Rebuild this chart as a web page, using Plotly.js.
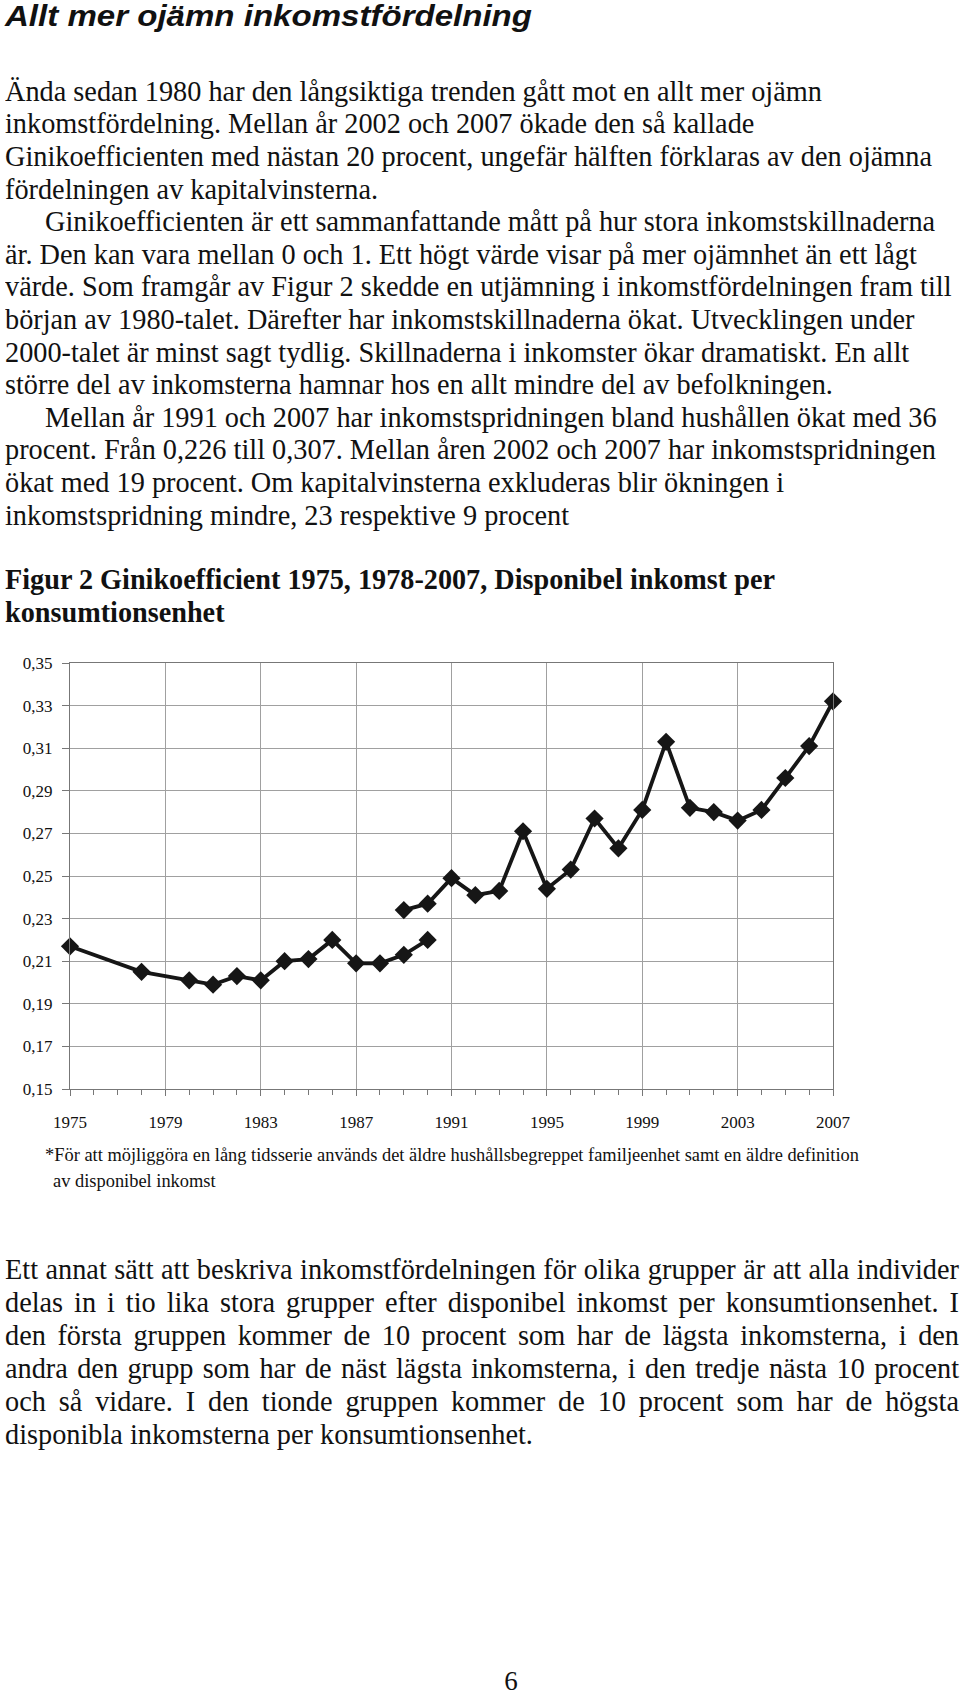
<!DOCTYPE html>
<html><head><meta charset="utf-8">
<script src="https://cdn.plot.ly/plotly-3.0.1.min.js"></script>
<style>
html,body{margin:0;padding:0;background:#fff;}
body{width:960px;height:1696px;position:relative;overflow:hidden;}
.ln{position:absolute;white-space:nowrap;transform-origin:0 50%;color:#111;font-family:'Liberation Serif',serif;}
#chart{position:absolute;left:0;top:640px;width:960px;height:500px;}
</style></head>
<body>
<div id="chart"></div>
<script>
// ---- data ----
const years1 = [1975, 1978, 1980, 1981, 1982, 1983, 1984, 1985, 1986, 1987, 1988, 1989, 1990];
const gini1  = [0.217, 0.205, 0.201, 0.199, 0.203, 0.201, 0.210, 0.211, 0.220, 0.209, 0.209, 0.213, 0.220];
const years2 = [1989, 1990, 1991, 1992, 1993, 1994, 1995, 1996, 1997, 1998, 1999, 2000, 2001, 2002, 2003, 2004, 2005, 2006, 2007];
const gini2  = [0.234, 0.237, 0.249, 0.241, 0.243, 0.271, 0.244, 0.253, 0.277, 0.263, 0.281, 0.313, 0.282, 0.280, 0.276, 0.281, 0.296, 0.311, 0.332];
const xTickStart = 1975, xTickStep = 4;
const yTicks = [0.15, 0.17, 0.19, 0.21, 0.23, 0.25, 0.27, 0.29, 0.31, 0.33, 0.35];

// ---- texts ----
const pageTitle = "Allt mer ojämn inkomstfördelning";
const para1 = [
 "Ända sedan 1980 har den långsiktiga trenden gått mot en allt mer ojämn",
 "inkomstfördelning. Mellan år 2002 och 2007 ökade den så kallade",
 "Ginikoefficienten med nästan 20 procent, ungefär hälften förklaras av den ojämna",
 "fördelningen av kapitalvinsterna.",
 "Ginikoefficienten är ett sammanfattande mått på hur stora inkomstskillnaderna",
 "är. Den kan vara mellan 0 och 1. Ett högt värde visar på mer ojämnhet än ett lågt",
 "värde. Som framgår av Figur 2 skedde en utjämning i inkomstfördelningen fram till",
 "början av 1980-talet. Därefter har inkomstskillnaderna ökat. Utvecklingen under",
 "2000-talet är minst sagt tydlig. Skillnaderna i inkomster ökar dramatiskt. En allt",
 "större del av inkomsterna hamnar hos en allt mindre del av befolkningen.",
 "Mellan år 1991 och 2007 har inkomstspridningen bland hushållen ökat med 36",
 "procent. Från 0,226 till 0,307. Mellan åren 2002 och 2007 har inkomstspridningen",
 "ökat med 19 procent. Om kapitalvinsterna exkluderas blir ökningen i",
 "inkomstspridning mindre, 23 respektive 9 procent"
];
const para1Indent = [4, 10];
const figTitle = ["Figur 2 Ginikoefficient 1975, 1978-2007, Disponibel inkomst per", "konsumtionsenhet"];
const footnote = ["*För att möjliggöra en lång tidsserie används det äldre hushållsbegreppet familjeenhet samt en äldre definition", "av disponibel inkomst"];
const para2 = [
 "Ett annat sätt att beskriva inkomstfördelningen för olika grupper är att alla individer",
 "delas in i tio lika stora grupper efter disponibel inkomst per konsumtionsenhet. I",
 "den första gruppen kommer de 10 procent som har de lägsta inkomsterna, i den",
 "andra den grupp som har de näst lägsta inkomsterna, i den tredje nästa 10 procent",
 "och så vidare. I den tionde gruppen kommer de 10 procent som har de högsta",
 "disponibla inkomsterna per konsumtionsenhet."
];
const pageNumber = "6";

// ---- text layout helpers ----
function mk(text, left, cy, size, h, extra) {
  const d = document.createElement('div');
  d.className = 'ln';
  d.textContent = text;
  d.style.left = left + 'px';
  d.style.top = (cy - h / 2) + 'px';
  d.style.height = h + 'px';
  d.style.lineHeight = h + 'px';
  d.style.fontSize = size + 'px';
  if (extra) Object.assign(d.style, extra);
  document.body.appendChild(d);
  return d;
}
function fit(els, refIdx, target) {
  const w = els[refIdx].getBoundingClientRect().width;
  const s = target / w;
  els.forEach(e => e.style.transform = 'scaleX(' + s + ')');
  return s;
}

// page title
const t = mk(pageTitle, 5, 16, 30, 40, {fontFamily: "'Liberation Sans', Arial, sans-serif", fontWeight: 'bold', fontStyle: 'italic'});
fit([t], 0, 527);

// paragraph 1
const p1 = para1.map((s, i) => mk(s, para1Indent.includes(i) ? 45 : 5, 90.8 + 32.6 * i, 29, 32));
const s1 = fit(p1, 2, 927);

// figure title
const ft = figTitle.map((s, i) => mk(s, 5, 579 + 33 * i, 29, 32, {fontWeight: 'bold'}));
fit(ft, 0, 770);

// footnote
const fn = footnote.map((s, i) => mk(s, i === 0 ? 45 : 53, 1155 + 26 * i, 18, 24));
fit(fn, 0, 814);

// paragraph 2 (justified)
const p2 = para2.map((s, i) => mk(s, 5, 1269 + 32.9 * i, 29, 32));
p2.forEach(e => e.style.transform = 'scaleX(' + s1 + ')');
p2.forEach((e, i) => {
  if (i < p2.length - 1) {
    e.style.width = (954 / s1) + 'px';
    e.style.textAlign = 'justify';
    e.style.textAlignLast = 'justify';
    e.style.whiteSpace = 'normal';
  }
});

// page number
const pn = mk(pageNumber, 500, 1681, 27, 30);
pn.style.left = (511 - pn.getBoundingClientRect().width / 2) + 'px';

// ---- chart ----
const lineCol = '#161616';
const tickFont = {family: "'Liberation Serif', serif", size: 17, color: '#111'};
const traceStyle = {
  type: 'scatter', mode: 'lines+markers', cliponaxis: false, showlegend: false, hoverinfo: 'skip',
  line: {color: lineCol, width: 3.8},
  marker: {symbol: 'diamond', size: 14, color: lineCol}
};
const traces = [
  Object.assign({x: years1, y: gini1}, traceStyle),
  Object.assign({x: years2, y: gini2}, traceStyle)
];
const layout = {
  width: 960, height: 500,
  margin: {l: 70, r: 127, t: 23, b: 51},
  paper_bgcolor: 'rgba(0,0,0,0)', plot_bgcolor: '#fff',
  separators: ',.',
  xaxis: {
    range: [1975, 2007], tick0: xTickStart, dtick: xTickStep,
    ticks: 'outside', ticklen: 6, tickcolor: '#777', tickwidth: 1,
    showgrid: true, gridcolor: '#a0a0a0', gridwidth: 1,
    showline: true, linecolor: '#777', linewidth: 1.2, mirror: true, zeroline: false,
    tickfont: tickFont, ticklabelstandoff: 11,
    minor: {dtick: 1, ticks: 'outside', ticklen: 5, tickcolor: '#777', showgrid: false}
  },
  yaxis: {
    range: [0.15, 0.35], tickmode: 'array', tickvals: yTicks, tickformat: '.2f',
    ticks: 'outside', ticklen: 7, tickcolor: '#777', tickwidth: 1,
    showgrid: true, gridcolor: '#a0a0a0', gridwidth: 1,
    showline: true, linecolor: '#777', linewidth: 1.2, mirror: true, zeroline: false,
    tickfont: tickFont, ticklabelstandoff: 6
  }
};
Plotly.newPlot('chart', traces, layout, {staticPlot: true, displayModeBar: false});
</script>
</body></html>
